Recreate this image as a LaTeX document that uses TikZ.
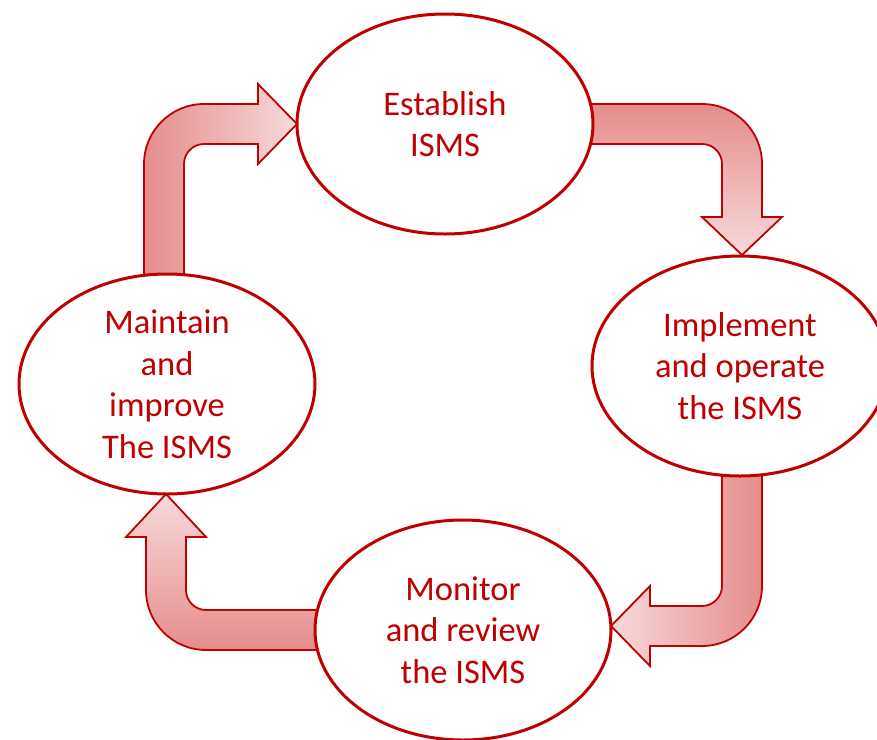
\documentclass[tikz,border=0pt]{standalone}
\usepackage{fontspec}
\setmainfont{Carlito}
\usetikzlibrary{shapes.geometric}

\definecolor{ismsred}{RGB}{192,0,0}
\definecolor{flowdark}{RGB}{229,140,140}
\definecolor{flowlight}{RGB}{247,218,218}

\tikzset{
  phase/.style={ellipse, draw=ismsred, line width=3pt, fill=white,
    minimum width=296pt, minimum height=220pt, inner sep=0pt,
    align=center, text=ismsred,
    font=\fontsize{34.5}{41.5}\selectfont},
  flow/.style={draw=ismsred, line width=1.8pt, line join=miter},
}

\begin{document}
\begin{tikzpicture}[x=1pt,y=-1pt]
  \useasboundingbox (0,0) rectangle (877,739);
  \clip (0,0) rectangle (877,739);

  % bent block arrows between the phases (drawn first, ellipses cover their tails)
  % Maintain -> Establish
  \path[flow, left color=flowdark, right color=flowlight]
    (144,300) -- (144,164) arc[start angle=180, end angle=270, radius=60]
    -- (258,104) -- (258,84) -- (297,124) -- (258,164) -- (258,144)
    -- (204,144) arc[start angle=270, end angle=180, radius=20]
    -- (184,300) -- cycle;
  % Establish -> Implement
  \path[flow, top color=flowdark, bottom color=flowlight]
    (560,104) -- (702,104) arc[start angle=270, end angle=360, radius=60]
    -- (762,217) -- (782,217) -- (742,255) -- (702,217) -- (722,217)
    -- (722,164) arc[start angle=0, end angle=-90, radius=20]
    -- (560,144) -- cycle;
  % Implement -> Monitor
  \path[flow, left color=flowlight, right color=flowdark]
    (722,450) -- (722,586) arc[start angle=0, end angle=90, radius=20]
    -- (650,606) -- (650,586) -- (611,626) -- (650,666) -- (650,646)
    -- (702,646) arc[start angle=90, end angle=0, radius=60]
    -- (762,450) -- cycle;
  % Monitor -> Maintain
  \path[flow, top color=flowlight, bottom color=flowdark]
    (350,610) -- (206,610) arc[start angle=90, end angle=180, radius=20]
    -- (186,537) -- (206,537) -- (166,494) -- (126,537) -- (146,537)
    -- (146,590) arc[start angle=180, end angle=90, radius=60]
    -- (350,650) -- cycle;

  % the four phases of the cycle
  \node[phase] (est)  at (445,124) {Establish\\ISMS};
  \node[phase] (impl) at (740,366) {Implement\\and operate\\the ISMS};
  \node[phase] (mon)  at (463,630) {Monitor\\and review\\the ISMS};
  \node[phase] (main) at (167,384) {Maintain\\and\\improve\\The ISMS};
\end{tikzpicture}
\end{document}
